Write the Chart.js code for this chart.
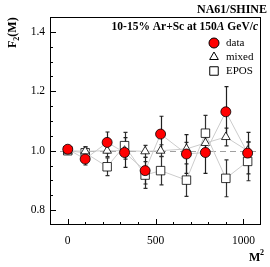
<!DOCTYPE html>
<html>
<head>
<meta charset="utf-8">
<script src="https://cdn.jsdelivr.net/npm/chart.js@4.4.0/dist/chart.umd.min.js"></script>
<style>
html, body { margin: 0; padding: 0; background: #fff; }
#wrap { width: 270px; height: 267px; }
</style>
</head>
<body>
<div id="wrap"><canvas id="f2chart" width="270" height="267"></canvas></div>
<script>
// M^2 bins
var m2 = [1, 100, 225, 324, 441, 529, 676, 784, 900, 1024];

var dataF2 = [1.005, 0.972, 1.028, 0.994, 0.933, 1.056, 0.989, 0.994, 1.131, 0.992];
var dataErr = [0.005, 0.02, 0.035, 0.05, 0.045, 0.06, 0.065, 0.07, 0.085, 0.07];

var mixedF2 = [1.0, 0.998, 1.0, 1.0, 0.998, 1.0, 1.006, 1.026, 1.046, 1.0];
var mixedErr = [0.004, 0.015, 0.02, 0.02, 0.02, 0.02, 0.022, 0.025, 0.03, 0.03];

var eposF2 = [1.0, 0.993, 0.946, 1.017, 0.918, 0.933, 0.901, 1.059, 0.907, 0.964];
var eposErr = [0.004, 0.02, 0.03, 0.045, 0.045, 0.048, 0.055, 0.06, 0.062, 0.065];

var legendNames = ['data', 'mixed', 'EPOS'];

var toPoints = function(ys) {
	var pts = [];
	for (var i = 0; i < m2.length; i++) {
		pts.push({ x: m2[i], y: ys[i] });
	}
	return pts;
};

var serif = "'Liberation Serif', 'DejaVu Serif', serif";

// error bars, dashed line at 1, ticks, frame and texts
var decorations = {
	id: 'decorations',
	beforeDatasetsDraw: function(chart) {
		var ctx = chart.ctx;
		var xs = chart.scales.x, ys = chart.scales.y;
		var area = chart.chartArea;
		ctx.save();
		ctx.strokeStyle = '#a0a0a0';
		ctx.lineWidth = 1;
		ctx.setLineDash([6, 4]);
		var y1 = Math.round(ys.getPixelForValue(1.0)) + 0.5;
		ctx.beginPath();
		ctx.moveTo(area.left, y1);
		ctx.lineTo(area.right, y1);
		ctx.stroke();
		ctx.setLineDash([]);

		var sets = [[eposF2, eposErr, '#303030'], [mixedF2, mixedErr, '#303030'], [dataF2, dataErr, '#202020']];
		sets.forEach(function(s) {
			ctx.strokeStyle = s[2];
			ctx.lineWidth = 1.2;
			for (var i = 0; i < m2.length; i++) {
				var px = Math.round(xs.getPixelForValue(m2[i])) + 0.5;
				var top = ys.getPixelForValue(s[0][i] + s[1][i]);
				var bot = ys.getPixelForValue(s[0][i] - s[1][i]);
				ctx.beginPath();
				ctx.moveTo(px, top);
				ctx.lineTo(px, bot);
				ctx.moveTo(px - 2, top);
				ctx.lineTo(px + 2, top);
				ctx.moveTo(px - 2, bot);
				ctx.lineTo(px + 2, bot);
				ctx.stroke();
			}
		});
		ctx.restore();
	},
	afterDraw: function(chart) {
		var ctx = chart.ctx;
		var xs = chart.scales.x, ys = chart.scales.y;
		var area = chart.chartArea;
		ctx.save();
		ctx.strokeStyle = '#000';
		ctx.lineWidth = 1;
		ctx.strokeRect(area.left + 0.5, area.top + 0.5, area.right - area.left - 1, area.bottom - area.top - 1);

		// inward ticks
		ctx.beginPath();
		for (var v = 0; v <= 1000; v += 100) {
			var px = Math.round(xs.getPixelForValue(v)) + 0.5;
			var len = (v % 500 === 0) ? 6 : 3;
			ctx.moveTo(px, area.bottom);
			ctx.lineTo(px, area.bottom - len);
		}
		for (var k = 16; k <= 28; k++) {
			var py = Math.round(ys.getPixelForValue(k * 0.05)) + 0.5;
			var ylen = (k % 4 === 0) ? 6 : 3;
			ctx.moveTo(area.left, py);
			ctx.lineTo(area.left + ylen, py);
		}
		ctx.stroke();

		ctx.fillStyle = '#000';
		ctx.textAlign = 'right';
		ctx.textBaseline = 'alphabetic';
		ctx.font = 'bold 12px ' + serif;
		ctx.fillText('NA61/SHINE', 267, 13);

		// annotation with italic A and c
		var parts = [['10-15% Ar+Sc at 150', 'bold '], ['A', 'italic bold '], [' GeV/', 'bold '], ['c', 'italic bold ']];
		var total = 0;
		parts.forEach(function(p) {
			ctx.font = p[1] + '11.5px ' + serif;
			total += ctx.measureText(p[0]).width;
		});
		var tx = area.right - 3 - total;
		ctx.textAlign = 'left';
		parts.forEach(function(p) {
			ctx.font = p[1] + '11.5px ' + serif;
			ctx.fillText(p[0], tx, 30);
			tx += ctx.measureText(p[0]).width;
		});

		// legend
		var ly = [43, 57, 71];
		var styles = ['circle', 'triangle', 'rect'];
		ctx.font = '11px ' + serif;
		for (var j = 0; j < 3; j++) {
			var ds = chart.data.datasets[j];
			ctx.lineWidth = 1;
			ctx.strokeStyle = '#000';
			ctx.fillStyle = ds.pointBackgroundColor;
			Chart.helpers.drawPoint(ctx, { pointStyle: styles[j], radius: ds.pointRadius, borderWidth: 1 }, 214, ly[j]);
			ctx.fillStyle = '#000';
			ctx.textBaseline = 'middle';
			ctx.fillText(legendNames[j], 226, ly[j]);
		}

		// axis titles
		ctx.textBaseline = 'alphabetic';
		ctx.font = 'bold 12px ' + serif;
		ctx.textAlign = 'left';
		ctx.fillText('M', 249, 261);
		ctx.font = 'bold 8px ' + serif;
		ctx.fillText('2', 260, 255);

		ctx.translate(16, 48);
		ctx.rotate(-Math.PI / 2);
		ctx.font = 'bold 12px ' + serif;
		ctx.fillText('F', 0, 0);
		var fw = ctx.measureText('F').width;
		ctx.font = 'bold 8px ' + serif;
		ctx.fillText('2', fw, 3);
		var sw = ctx.measureText('2').width;
		ctx.font = 'bold 12px ' + serif;
		ctx.fillText('(M)', fw + sw, 0);
		ctx.restore();
	}
};

var config = {
	type: 'scatter',
	data: {
		datasets: [
			{
				label: legendNames[0],
				data: toPoints(dataF2),
				showLine: true,
				borderColor: '#cccccc',
				borderWidth: 1,
				pointStyle: 'circle',
				pointRadius: 5,
				pointBackgroundColor: '#ff0000',
				pointBorderColor: '#000',
				pointBorderWidth: 0.8
			},
			{
				label: legendNames[1],
				data: toPoints(mixedF2),
				showLine: true,
				borderColor: '#cccccc',
				borderWidth: 1,
				pointStyle: 'triangle',
				pointRadius: 5,
				pointBackgroundColor: '#ffffff',
				pointBorderColor: '#000',
				pointBorderWidth: 0.8
			},
			{
				label: legendNames[2],
				data: toPoints(eposF2),
				showLine: true,
				borderColor: '#cccccc',
				borderWidth: 1,
				pointStyle: 'rect',
				pointRadius: 6,
				pointBackgroundColor: '#ffffff',
				pointBorderColor: '#000',
				pointBorderWidth: 0.8
			}
		]
	},
	options: {
		responsive: false,
		animation: false,
		layout: { padding: { top: 17, right: 5, left: 0, bottom: 0 } },
		plugins: { legend: { display: false }, tooltip: { enabled: false } },
		scales: {
			x: {
				type: 'linear',
				min: -100,
				max: 1100,
				grid: { display: false, drawTicks: false },
				border: { display: false },
				afterFit: function(scale) { scale.height = 42; },
				ticks: {
					stepSize: 100,
					autoSkip: false,
					maxRotation: 0,
					padding: 9,
					color: '#000',
					font: { family: serif, size: 11.5 },
					callback: function(v) { return (v >= 0 && v % 500 === 0) ? String(v) : ''; }
				}
			},
			y: {
				min: 0.75,
				max: 1.45,
				grid: { display: false, drawTicks: false },
				border: { display: false },
				afterFit: function(scale) { scale.width = 50; },
				ticks: {
					stepSize: 0.05,
					autoSkip: false,
					padding: 5,
					color: '#000',
					font: { family: serif, size: 11.5 },
					callback: function(v) {
						var k = Math.round(v * 100);
						return (k % 20 === 0) ? (k / 100).toFixed(1) : '';
					}
				}
			}
		}
	},
	plugins: [decorations]
};

var ctx = document.getElementById('f2chart').getContext('2d');
window.f2Chart = new Chart(ctx, config);
</script>
</body>
</html>
